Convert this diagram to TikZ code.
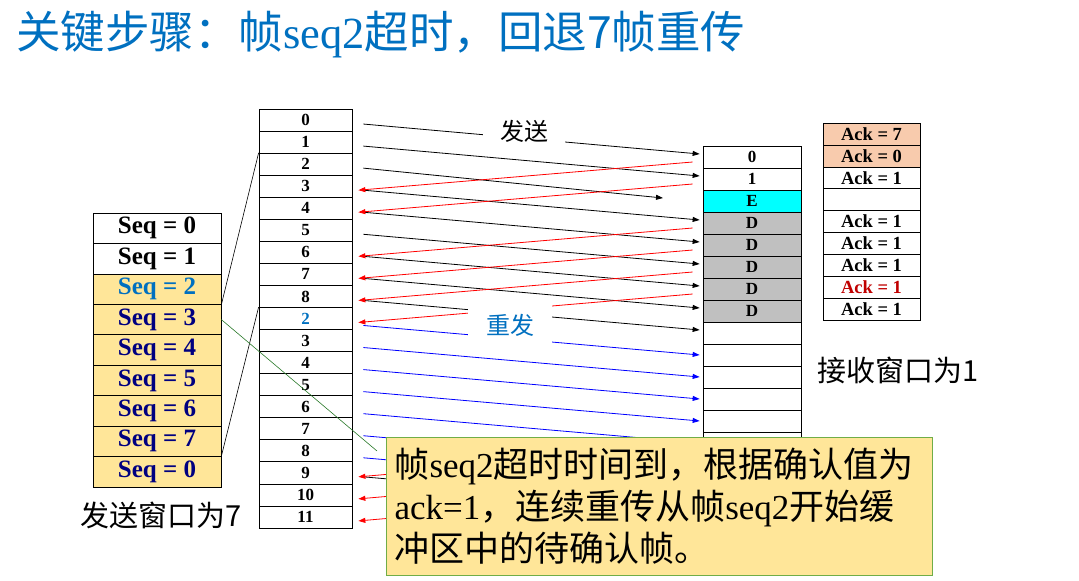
\documentclass[tikz,border=0pt]{standalone}
\usepackage{fontspec}
\setmainfont{Liberation Serif}
\newfontfamily\cjk{Noto Sans CJK SC}
\usetikzlibrary{arrows.meta}
\definecolor{ttlblue}{RGB}{0,112,192}
\definecolor{seqyel}{RGB}{255,230,153}
\definecolor{ackpeach}{RGB}{248,203,173}
\definecolor{dgray}{RGB}{192,192,192}
\definecolor{ecyan}{RGB}{0,255,255}
\definecolor{navy}{RGB}{0,0,128}
\definecolor{ackred}{RGB}{192,0,0}
\definecolor{cgreen}{RGB}{112,173,71}
\definecolor{pgreen}{RGB}{40,120,40}
\begin{document}
\begin{tikzpicture}[x=1pt,y=-1pt,
  cellbox/.style={draw=black, line width=0.7pt, inner sep=0pt},
  scell/.style={cellbox, minimum width=93pt, minimum height=22.05pt, font=\fontsize{17}{19}\selectfont\bfseries},
  rcell/.style={cellbox, minimum width=98pt, minimum height=22pt, font=\fontsize{17}{19}\selectfont\bfseries},
  acell/.style={cellbox, minimum width=97pt, minimum height=21.9pt, font=\fontsize{18.5}{20}\selectfont\bfseries},
  qcell/.style={cellbox, minimum width=128pt, minimum height=30.45pt, font=\fontsize{25}{27}\selectfont\bfseries},
  tip/.style={-{Triangle[length=7pt,width=5pt]}},
  sendarr/.style={tip, line width=0.8pt, draw=black},
  ackarr/.style={tip, line width=0.8pt, draw=red},
  rearr/.style={tip, line width=0.8pt, draw=blue},
  lbl/.style={inner sep=0pt, font=\cjk\fontsize{24}{26}\selectfont},
  winlbl/.style={inner sep=0pt, font=\cjk\fontsize{29}{31}\selectfont},
  calloutbox/.style={draw=cgreen, line width=1pt, fill=seqyel, anchor=north west,
    minimum width=546pt, minimum height=138pt, text width=530pt, inner xsep=8pt,
    align=left, font=\fontsize{35}{42}\selectfont}
]
\useasboundingbox (0,0) rectangle (1079,581);

% title
\node[anchor=west, inner sep=0pt, text=ttlblue, font=\fontsize{44.5}{47}\selectfont] (title) at (16,34)
  {{\cjk 关键步骤：帧}seq2{\cjk 超时，回退7帧重传}};

% sender buffer column
\foreach \lab [count=\i from 0] in {0,1,2,3,4,5,6,7,8,{\color{ttlblue}2},3,4,5,6,7,8,9,10,11}
  \node[scell] (s\i) at (305.5,{120.03+22.05*\i}) {\lab};

% receiver column
\foreach \lab/\fc [count=\i from 0] in {0/white,1/white,E/ecyan,D/dgray,D/dgray,D/dgray,D/dgray,D/dgray}
  \node[rcell, fill=\fc] (r\i) at (752,{157+22*\i}) {\lab};
\foreach \i in {8,...,17}
  \node[rcell, fill=white] (r\i) at (752,{157+22*\i}) {};

% ack column
\foreach \lab/\fc/\tc [count=\i from 0] in {Ack = 7/ackpeach/black,Ack = 0/ackpeach/black,Ack = 1/white/black,/white/black,Ack = 1/white/black,Ack = 1/white/black,Ack = 1/white/black,Ack = 1/white/ackred,Ack = 1/white/black}
  \node[acell, fill=\fc, text=\tc] (a\i) at (871.5,{134+21.9*\i}) {\lab};

% sequence window column
\node[qcell, fill=white, text=black] (q0) at (157,{213+30.45*0.5}) {Seq = 0};
\node[qcell, fill=white, text=black] (q1) at (157,{213+30.45*1.5}) {Seq = 1};
\node[qcell, fill=seqyel, text=ttlblue] (q2) at (157,{213+30.45*2.5}) {Seq = 2};
\foreach \lab [count=\i from 3] in {3,4,5,6,7,0}
  \node[qcell, fill=seqyel, text=navy] (q\i) at (157,{213+30.45*(\i+0.5)}) {Seq = \lab};

% window mapping lines
\draw[line width=0.6pt] (q2.south east) -- (s2.north west);
\draw[line width=0.6pt] (q8.north east) -- (s9.north west);

% send arrows
\coordinate (lost) at (663,198);
\foreach \k in {0,1,3,4,5,6,7,8,16}
  \draw[sendarr] ([xshift=11pt,yshift=-4pt]s\k.east) -- ([xshift=-3pt,yshift=3pt]r\k.west);
\draw[sendarr] ([xshift=11pt,yshift=-4pt]s2.east) -- (lost);

% ack arrows
\foreach \j/\t in {0/3,1/4,3/6,4/7,5/8,6/9,13/16,14/17,15/18}
  \draw[ackarr] ([xshift=-10pt,yshift=-5pt]r\j.west) -- ([xshift=6pt,yshift=-4pt]s\t.east);

% retransmission arrows
\foreach \k in {9,...,15}
  \draw[rearr] ([xshift=11pt,yshift=-7pt]s\k.east) -- ([xshift=-3pt]r\k.west);

% labels
\node[lbl, fill=white, minimum width=82pt, minimum height=26pt] (fasong) at (524,131) {发送};
\node[lbl, fill=white, text=ttlblue, minimum width=84pt, minimum height=40pt] (chongfa) at (510,325) {重发};
\node[winlbl] (rwin) at (898,370) {接收窗口为1};
\node[winlbl] (swin) at (161,515) {发送窗口为7};

% callout
\node[calloutbox] (callout) at (386,437)
  {{\cjk 帧}seq2{\cjk 超时时间到，根据确认值为}\\
   ack=1{\cjk ，连续重传从帧}seq2{\cjk 开始缓}\\
   {\cjk 冲区中的待确认帧。}};
\coordinate (ptr) at (377,451);
\draw[pgreen, line width=0.6pt] (q3.east) -- (ptr);
\end{tikzpicture}
\end{document}
